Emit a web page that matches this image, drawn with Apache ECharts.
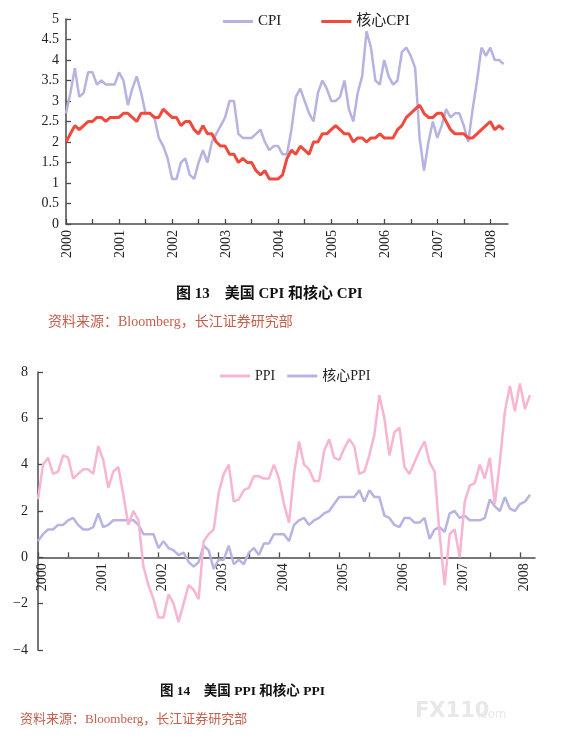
<!DOCTYPE html>
<html>
<head>
<meta charset="utf-8">
<script src="https://cdn.jsdelivr.net/npm/echarts@6.0.0/dist/echarts.min.js"></script>
<style>
  html, body { margin: 0; padding: 0; background: #fff; }
  #main { width: 581px; height: 745px; }
</style>
</head>
<body>
<div id="main"></div>
<script>
// 年份（刻度标签）
var years = ['2000', '2001', '2002', '2003', '2004', '2005', '2006', '2007', '2008'];

// 图13 美国CPI和核心CPI（同比，%，2000.01-2008.04）
var cpi = [
  2.7, 3.2, 3.8, 3.1, 3.2, 3.7, 3.7, 3.4, 3.5, 3.4, 3.4, 3.4,
  3.7, 3.5, 2.9, 3.3, 3.6, 3.2, 2.7, 2.7, 2.6, 2.1, 1.9, 1.6,
  1.1, 1.1, 1.5, 1.6, 1.2, 1.1, 1.5, 1.8, 1.5, 2.0, 2.2, 2.4,
  2.6, 3.0, 3.0, 2.2, 2.1, 2.1, 2.1, 2.2, 2.3, 2.0, 1.8, 1.9,
  1.9, 1.7, 1.7, 2.3, 3.1, 3.3, 3.0, 2.7, 2.5, 3.2, 3.5, 3.3,
  3.0, 3.0, 3.1, 3.5, 2.8, 2.5, 3.2, 3.6, 4.7, 4.3, 3.5, 3.4,
  4.0, 3.6, 3.4, 3.5, 4.2, 4.3, 4.1, 3.8, 2.1, 1.3, 2.0, 2.5,
  2.1, 2.4, 2.8, 2.6, 2.7, 2.7, 2.4, 2.0, 2.8, 3.5, 4.3, 4.1,
  4.3, 4.0, 4.0, 3.9
];
var coreCpi = [
  2.0, 2.2, 2.4, 2.3, 2.4, 2.5, 2.5, 2.6, 2.6, 2.5, 2.6, 2.6,
  2.6, 2.7, 2.7, 2.6, 2.5, 2.7, 2.7, 2.7, 2.6, 2.6, 2.8, 2.7,
  2.6, 2.6, 2.4, 2.5, 2.5, 2.3, 2.2, 2.4, 2.2, 2.2, 2.0, 1.9,
  1.9, 1.7, 1.7, 1.5, 1.6, 1.5, 1.5, 1.3, 1.2, 1.3, 1.1, 1.1,
  1.1, 1.2, 1.6, 1.8, 1.7, 1.9, 1.8, 1.7, 2.0, 2.0, 2.2, 2.2,
  2.3, 2.4, 2.3, 2.2, 2.2, 2.0, 2.1, 2.1, 2.0, 2.1, 2.1, 2.2,
  2.1, 2.1, 2.1, 2.3, 2.4, 2.6, 2.7, 2.8, 2.9, 2.7, 2.6, 2.6,
  2.7, 2.7, 2.5, 2.3, 2.2, 2.2, 2.2, 2.1, 2.1, 2.2, 2.3, 2.4,
  2.5, 2.3, 2.4, 2.3
];

// 图14 美国PPI和核心PPI（同比，%，2000.01-2008.03）
var ppi = [
  2.5, 4.0, 4.3, 3.6, 3.7, 4.4, 4.3, 3.4, 3.6, 3.8, 3.8, 3.6,
  4.8, 4.2, 3.0, 3.7, 3.9, 2.7, 1.4, 2.0, 1.6, -0.4, -1.2, -1.8,
  -2.6, -2.6, -1.6, -2.0, -2.8, -2.0, -1.2, -1.4, -1.8, 0.7, 1.0, 1.2,
  2.8, 3.6, 4.0, 2.4, 2.5, 2.9, 3.0, 3.5, 3.5, 3.4, 3.4, 4.0,
  3.4, 2.3, 1.5, 3.6, 5.0, 4.0, 3.8, 3.3, 3.3, 4.6, 5.1, 4.3,
  4.2, 4.7, 5.1, 4.8, 3.6, 3.7, 4.4, 5.3, 7.0, 6.0, 4.4, 5.4,
  5.6, 3.9, 3.6, 4.1, 4.6, 5.0, 4.1, 3.7, 1.0, -1.2, 1.0, 1.2,
  0.0, 2.4, 3.1, 3.2, 4.0, 3.4, 4.3, 2.3, 4.1, 6.3, 7.4, 6.3,
  7.5, 6.4, 7.0
];
var corePpi = [
  0.7, 1.0, 1.2, 1.2, 1.4, 1.4, 1.6, 1.7, 1.4, 1.2, 1.2, 1.3,
  1.9, 1.3, 1.4, 1.6, 1.6, 1.6, 1.6, 1.6, 1.4, 1.0, 1.0, 1.0,
  0.4, 0.7, 0.4, 0.3, 0.1, 0.2, -0.2, -0.4, -0.2, 0.5, 0.3, -0.5,
  -0.1, -0.1, 0.5, -0.3, -0.1, -0.3, 0.2, 0.4, 0.1, 0.6, 0.6, 1.0,
  1.0, 1.0, 0.7, 1.4, 1.6, 1.7, 1.4, 1.6, 1.7, 1.9, 2.0, 2.3,
  2.6, 2.6, 2.6, 2.6, 2.9, 2.4, 2.9, 2.6, 2.6, 1.8, 1.7, 1.4,
  1.3, 1.7, 1.7, 1.5, 1.5, 1.7, 0.8, 1.2, 1.3, 1.1, 1.9, 2.0,
  1.7, 1.8, 1.6, 1.6, 1.6, 1.7, 2.5, 2.2, 2.0, 2.6, 2.1, 2.0,
  2.3, 2.4, 2.7
];

// 月份类目：按年份展开
function buildMonths(count) {
  var arr = [];
  for (var i = 0; i < count; i++) {
    var y = parseInt(years[0]) + Math.floor(i / 12);
    arr.push(y + '-' + (i % 12 + 1));
  }
  return arr;
}
var months1 = buildMonths(101);
var months2 = buildMonths(100);

var serif = '"Liberation Serif", "Noto Sans CJK SC", serif';
var axisColor = '#4a4a4a';

// 图14的纵轴范围，横轴放在0处（连同标签一起上移）
var yMin2 = -4, yMax2 = 8, gridH2 = 278;
var zeroOffset2 = -gridH2 * (0 - yMin2) / (yMax2 - yMin2);

function xAxisOf(gridIndex, data, offset, labelShift) {
  return {
    type: 'category',
    gridIndex: gridIndex,
    data: data,
    boundaryGap: false,
    offset: offset,
    axisLine: { onZero: false, lineStyle: { color: axisColor, width: 1.5 } },
    axisTick: {
      inside: true, length: 5,
      lineStyle: { color: axisColor, width: 1.3 },
      interval: function (i) { return i % 6 === 0; }
    },
    axisLabel: {
      interval: function (i) { return i % 12 === 0; },
      rotate: 90,
      margin: 6,
      color: '#222',
      fontFamily: serif,
      fontSize: 14,
      // 竖排标签略微右移
      verticalAlign: 'top',
      lineHeight: labelShift * 2,
      formatter: function (v) { return v.slice(0, 4); }
    },
    splitLine: { show: false }
  };
}

var myChart = echarts.init(document.getElementById('main'));
var option = {
  animation: false,
  backgroundColor: '#fff',
  grid: [
    { left: 66, top: 19, width: 442, height: 205 },
    { left: 38, top: 372, width: 497, height: gridH2 }
  ],
  legend: [
    {
      data: ['CPI', '核心CPI'], left: 218, top: 9, itemGap: 40,
      icon: 'rect', itemWidth: 30, itemHeight: 3,
      textStyle: { fontFamily: serif, fontSize: 15, color: '#222' }
    },
    {
      data: ['PPI', '核心PPI'], left: 215, top: 364, itemGap: 12,
      icon: 'rect', itemWidth: 30, itemHeight: 3,
      textStyle: { fontFamily: serif, fontSize: 14, color: '#222' }
    }
  ],
  xAxis: [xAxisOf(0, months1, 0, 1.5), xAxisOf(1, months2, zeroOffset2, 4)],
  yAxis: [
    {
      type: 'value', gridIndex: 0, min: 0, max: 5, interval: 0.5,
      axisLine: { show: true, lineStyle: { color: axisColor, width: 1.5 } },
      axisTick: { show: true, inside: true, length: 5, lineStyle: { color: axisColor, width: 1.3 } },
      axisLabel: { color: '#222', fontFamily: serif, fontSize: 14, margin: 7 },
      splitLine: { show: false }
    },
    {
      type: 'value', gridIndex: 1, min: yMin2, max: yMax2, interval: 2,
      axisLine: { show: true, lineStyle: { color: axisColor, width: 1.5 } },
      axisTick: { show: true, inside: true, length: 5, lineStyle: { color: axisColor, width: 1.3 } },
      axisLabel: {
        color: '#222', fontFamily: serif, fontSize: 14, margin: 10,
        formatter: function (v) { return String(v).replace('-', '\u2212'); }
      },
      splitLine: { show: false }
    }
  ],
  series: [
    {
      name: 'CPI', type: 'line', xAxisIndex: 0, yAxisIndex: 0, data: cpi,
      showSymbol: false, color: '#b7b2e2', lineStyle: { width: 2.5 }
    },
    {
      name: '核心CPI', type: 'line', xAxisIndex: 0, yAxisIndex: 0, data: coreCpi,
      showSymbol: false, color: '#f2493d', lineStyle: { width: 3 }
    },
    {
      name: '核心PPI', type: 'line', xAxisIndex: 1, yAxisIndex: 1, data: corePpi,
      showSymbol: false, color: '#b9b3e3', lineStyle: { width: 2.5 }
    },
    {
      name: 'PPI', type: 'line', xAxisIndex: 1, yAxisIndex: 1, data: ppi,
      showSymbol: false, color: '#f8b4d3', lineStyle: { width: 2.5 }
    }
  ],
  graphic: [
    {
      type: 'text', left: 176, top: 287,
      style: { text: '图 13　美国 CPI 和核心 CPI', font: 'bold 15px "Liberation Serif", "Noto Sans CJK SC"', fill: '#111' }
    },
    {
      type: 'text', left: 48, top: 315,
      style: { text: '资料来源：Bloomberg，长江证券研究部', font: '14px "Liberation Serif", "Noto Sans CJK SC"', fill: '#c4604c' }
    },
    {
      type: 'text', left: 160, top: 685,
      style: { text: '图 14　美国 PPI 和核心 PPI', font: 'bold 13.5px "Liberation Serif", "Noto Sans CJK SC"', fill: '#111' }
    },
    {
      type: 'text', left: 20, top: 713,
      style: { text: '资料来源：Bloomberg，长江证券研究部', font: '13px "Liberation Serif", "Noto Sans CJK SC"', fill: '#c4604c' }
    },
    {
      type: 'text', left: 415, top: 701,
      style: { text: 'FX110', font: 'bold 21px "DejaVu Sans"', fill: '#e8e8e8' }
    },
    {
      type: 'text', left: 477, top: 709,
      style: { text: '.com', font: '12px "DejaVu Sans"', fill: '#e8e8e8' }
    }
  ]
};
myChart.setOption(option);
</script>
</body>
</html>
